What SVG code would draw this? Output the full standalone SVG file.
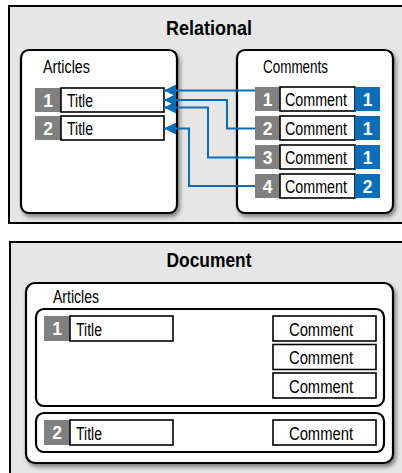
<svg xmlns="http://www.w3.org/2000/svg" width="402" height="473" viewBox="0 0 402 473">
<defs>
<filter id="sh" x="-10%" y="-10%" width="125%" height="125%">
<feDropShadow dx="2" dy="3" stdDeviation="2" flood-color="#000" flood-opacity="0.45"/>
</filter>
<marker id="ah" markerUnits="userSpaceOnUse" markerWidth="13" markerHeight="12" refX="12" refY="6" orient="auto">
<path d="M0,0 L12,6 L0,12 z" fill="#0a6db8"/>
</marker>
</defs>
<style>
text{font-family:"Liberation Sans Narrow","Liberation Sans",Arial,sans-serif;}
.panel{fill:#e6e6e6;stroke:#000;stroke-width:2;}
.box{fill:#fff;stroke:#000;stroke-width:2.2;}
.cell{fill:#fff;stroke:#000;stroke-width:1.6;}
.gray{fill:#808080;}
.blue{fill:#0a6db8;}
.head{font-size:21px;font-weight:bold;fill:#000;text-anchor:middle;}
.lbl{font-size:17.5px;fill:#000;}
.num{font-size:17.5px;font-weight:bold;fill:#fff;text-anchor:middle;}
.conn{fill:none;stroke:#0a6db8;stroke-width:2;marker-end:url(#ah);}
</style>

<g id="relational">
<rect class="panel" x="9" y="6" width="400" height="217"/>
<text class="head" x="209" y="35" textLength="86" lengthAdjust="spacingAndGlyphs">Relational</text>
</g>

<g id="rel-articles">
<rect class="box" x="21" y="50" width="156" height="163" rx="8" filter="url(#sh)"/>
<text class="lbl" x="43" y="73" textLength="47" lengthAdjust="spacingAndGlyphs">Articles</text>
</g>
<g id="rel-article-1">
<rect class="gray" x="35" y="88" width="26" height="24"/>
<rect class="cell" x="61" y="88" width="103" height="24"/>
<text class="num" x="48" y="106.5">1</text>
<text class="lbl" x="67" y="106.5" textLength="26" lengthAdjust="spacingAndGlyphs">Title</text>
</g>
<g id="rel-article-2">
<rect class="gray" x="35" y="116" width="26" height="24"/>
<rect class="cell" x="61" y="116" width="103" height="24"/>
<text class="num" x="48" y="134.5">2</text>
<text class="lbl" x="67" y="134.5" textLength="26" lengthAdjust="spacingAndGlyphs">Title</text>
</g>

<g id="rel-comments">
<rect class="box" x="237" y="50" width="156" height="163" rx="8" filter="url(#sh)"/>
<text class="lbl" x="263" y="73" textLength="65" lengthAdjust="spacingAndGlyphs">Comments</text>
</g>
<g id="rel-comment-1">
<rect class="gray" x="255" y="87" width="25" height="24"/>
<rect class="cell" x="280" y="87" width="75" height="24"/>
<rect class="blue" x="355" y="87" width="25" height="24"/>
<text class="num" x="267.5" y="105.5">1</text>
<text class="lbl" x="285" y="105.5" textLength="62" lengthAdjust="spacingAndGlyphs">Comment</text>
<text class="num" x="367.5" y="105.5">1</text>
</g>
<g id="rel-comment-2">
<rect class="gray" x="255" y="116" width="25" height="24"/>
<rect class="cell" x="280" y="116" width="75" height="24"/>
<rect class="blue" x="355" y="116" width="25" height="24"/>
<text class="num" x="267.5" y="134.5">2</text>
<text class="lbl" x="285" y="134.5" textLength="62" lengthAdjust="spacingAndGlyphs">Comment</text>
<text class="num" x="367.5" y="134.5">1</text>
</g>
<g id="rel-comment-3">
<rect class="gray" x="255" y="145" width="25" height="24"/>
<rect class="cell" x="280" y="145" width="75" height="24"/>
<rect class="blue" x="355" y="145" width="25" height="24"/>
<text class="num" x="267.5" y="163.5">3</text>
<text class="lbl" x="285" y="163.5" textLength="62" lengthAdjust="spacingAndGlyphs">Comment</text>
<text class="num" x="367.5" y="163.5">1</text>
</g>
<g id="rel-comment-4">
<rect class="gray" x="255" y="174" width="25" height="24"/>
<rect class="cell" x="280" y="174" width="75" height="24"/>
<rect class="blue" x="355" y="174" width="25" height="24"/>
<text class="num" x="267.5" y="192.5">4</text>
<text class="lbl" x="285" y="192.5" textLength="62" lengthAdjust="spacingAndGlyphs">Comment</text>
<text class="num" x="367.5" y="192.5">2</text>
</g>

<g id="connectors">
<path class="conn" d="M255,90.5 H164"/>
<path class="conn" d="M255,128.5 H227 V100 H164"/>
<path class="conn" d="M255,157.5 H208 V107.5 H164"/>
<path class="conn" d="M255,186 H189 V128.5 H164"/>
</g>

<g id="document">
<rect class="panel" x="10" y="242" width="400" height="240"/>
<text class="head" x="209" y="267" textLength="85" lengthAdjust="spacingAndGlyphs">Document</text>
</g>
<g id="doc-articles">
<rect class="box" x="26" y="283" width="367" height="180" rx="9" filter="url(#sh)"/>
<text class="lbl" x="53" y="302.5" textLength="46" lengthAdjust="spacingAndGlyphs">Articles</text>
</g>
<g id="doc-article-1">
<rect class="box" x="36" y="309" width="348" height="97" rx="8"/>
<rect class="gray" x="44" y="316" width="26" height="25"/>
<rect class="cell" x="70" y="316" width="103" height="25"/>
<text class="num" x="57" y="334.5">1</text>
<text class="lbl" x="76" y="335.5" textLength="26" lengthAdjust="spacingAndGlyphs">Title</text>
<rect class="cell" x="273" y="316" width="103" height="25"/>
<text class="lbl" x="289" y="335.5" textLength="64" lengthAdjust="spacingAndGlyphs">Comment</text>
<rect class="cell" x="273" y="344.5" width="103" height="25"/>
<text class="lbl" x="289" y="364" textLength="64" lengthAdjust="spacingAndGlyphs">Comment</text>
<rect class="cell" x="273" y="373" width="103" height="25"/>
<text class="lbl" x="289" y="392.5" textLength="64" lengthAdjust="spacingAndGlyphs">Comment</text>
</g>
<g id="doc-article-2">
<rect class="box" x="36" y="413" width="348" height="39" rx="8"/>
<rect class="gray" x="44" y="420" width="26" height="25"/>
<rect class="cell" x="70" y="420" width="103" height="25"/>
<text class="num" x="57" y="438.5">2</text>
<text class="lbl" x="76" y="439.5" textLength="26" lengthAdjust="spacingAndGlyphs">Title</text>
<rect class="cell" x="273" y="420" width="103" height="25"/>
<text class="lbl" x="289" y="439.5" textLength="64" lengthAdjust="spacingAndGlyphs">Comment</text>
</g>
</svg>
